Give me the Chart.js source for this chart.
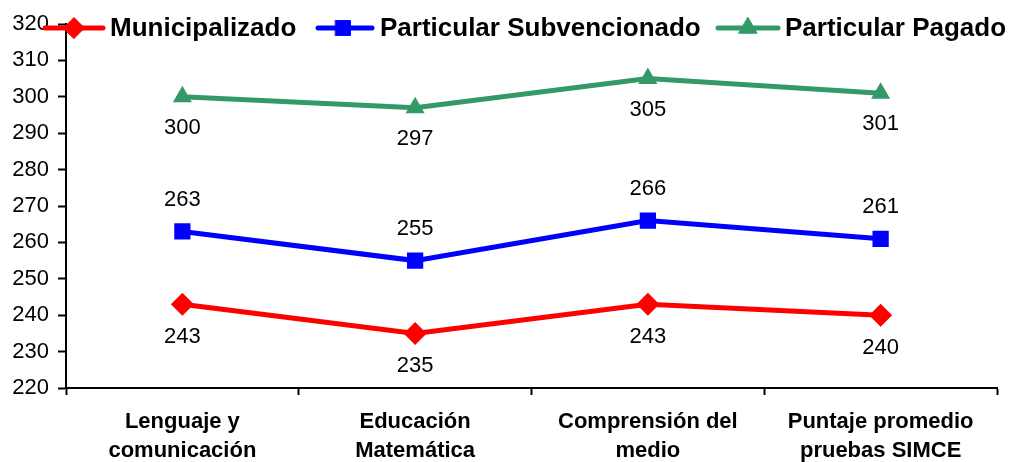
<!DOCTYPE html>
<html>
<head>
<meta charset="utf-8">
<script src="https://cdn.jsdelivr.net/npm/chart.js@4/dist/chart.umd.min.js"></script>
<style>
html,body{margin:0;padding:0;background:#fff;}
#wrap{width:1013px;height:462px;position:relative;}
</style>
</head>
<body>
<div id="wrap"><canvas id="c" width="1013" height="462"></canvas></div>
<script>
const categories = [
  ["Lenguaje y", "comunicación"],
  ["Educación", "Matemática"],
  ["Comprensión del", "medio"],
  ["Puntaje promedio", "pruebas SIMCE"]
];
const seriesNames = ["Municipalizado", "Particular Subvencionado", "Particular Pagado"];
const municipalizado = [243, 235, 243, 240];
const subvencionado = [263, 255, 266, 261];
const pagado = [300, 297, 305, 301];
const yTicks = [220, 230, 240, 250, 260, 270, 280, 290, 300, 310, 320];

const FONT = "'Liberation Sans', Arial, Helvetica, sans-serif";

const valueLabels = {
  id: 'valueLabels',
  afterDatasetsDraw(chart) {
    const ctx = chart.ctx;
    ctx.save();
    ctx.font = "22px " + FONT;
    ctx.fillStyle = "#000";
    ctx.textAlign = "center";
    ctx.textBaseline = "middle";
    chart.data.datasets.forEach((ds, i) => {
      const meta = chart.getDatasetMeta(i);
      meta.data.forEach((pt, j) => {
        ctx.fillText(String(ds.data[j]), pt.x, pt.y + ds.labelOffset);
      });
    });
    ctx.restore();
  }
};

const lineLegend = {
  id: 'lineLegend',
  afterDraw(chart) {
    const ctx = chart.ctx;
    const items = chart.options.plugins.lineLegend.items;
    ctx.save();
    chart.data.datasets.forEach((ds, i) => {
      const it = items[i];
      const y = 28;
      ctx.strokeStyle = ds.borderColor;
      ctx.lineWidth = 5;
      ctx.lineCap = 'round';
      ctx.beginPath();
      ctx.moveTo(it.x0, y);
      ctx.lineTo(it.x1, y);
      ctx.stroke();
      ctx.lineWidth = 1;
      ctx.fillStyle = ds.borderColor;
      ctx.strokeStyle = ds.borderColor;
      Chart.helpers.drawPoint(ctx, {
        pointStyle: ds.pointStyle,
        radius: ds.legendRadius,
        rotation: 0,
        borderWidth: 1
      }, it.mx, y);
      ctx.font = "bold 26px " + FONT;
      ctx.fillStyle = "#000";
      ctx.textAlign = "left";
      ctx.textBaseline = "middle";
      ctx.fillText(ds.label, it.tx, y + 1);
    });
    ctx.restore();
  }
};

new Chart(document.getElementById('c'), {
  type: 'line',
  data: {
    labels: categories,
    datasets: [
      {
        label: seriesNames[0], data: municipalizado,
        borderColor: '#FF0000', backgroundColor: '#FF0000',
        borderWidth: 5, pointStyle: 'rectRot', pointRadius: 11.5,
        pointBorderWidth: 0, legendRadius: 10.5, labelOffset: 33, tension: 0
      },
      {
        label: seriesNames[1], data: subvencionado,
        borderColor: '#0000FF', backgroundColor: '#0000FF',
        borderWidth: 5, pointStyle: 'rect', pointRadius: 11.5,
        pointBorderWidth: 0, legendRadius: 10.5, labelOffset: -32, tension: 0
      },
      {
        label: seriesNames[2], data: pagado,
        borderColor: '#339966', backgroundColor: '#339966',
        borderWidth: 5, pointStyle: 'triangle', pointRadius: 11,
        pointBorderWidth: 0, legendRadius: 10.5, labelOffset: 31, tension: 0
      }
    ]
  },
  options: {
    responsive: false,
    animation: false,
    devicePixelRatio: 1,
    layout: { padding: { top: 24, right: 16, left: 0, bottom: 0 } },
    plugins: {
      legend: { display: false },
      tooltip: { enabled: false },
      lineLegend: {
        items: [
          { x0: 45, x1: 103, mx: 74, tx: 110 },
          { x0: 318, x1: 372, mx: 343, tx: 380 },
          { x0: 718, x1: 778, mx: 748, tx: 785 }
        ]
      }
    },
    scales: {
      x: {
        offset: true,
        grid: {
          offset: true, drawOnChartArea: false, drawTicks: true,
          tickLength: 7, tickColor: '#000', tickWidth: 2
        },
        border: { color: '#000', width: 2 },
        ticks: {
          color: '#000', padding: 13, maxRotation: 0, autoSkip: false,
          font: { family: FONT, size: 22, weight: 'bold', lineHeight: 1.3 }
        },
        afterFit(scale) { scale.height = 74; }
      },
      y: {
        min: 220, max: 320,
        afterBuildTicks(scale) { scale.ticks = yTicks.map(v => ({ value: v })); },
        grid: {
          drawOnChartArea: false, drawTicks: true,
          tickLength: 8, tickColor: '#000', tickWidth: 2
        },
        border: { color: '#000', width: 2 },
        ticks: {
          color: '#000', padding: 9,
          font: { family: FONT, size: 22 }
        },
        afterFit(scale) { scale.width = 66; }
      }
    }
  },
  plugins: [valueLabels, lineLegend]
});
</script>
</body>
</html>
